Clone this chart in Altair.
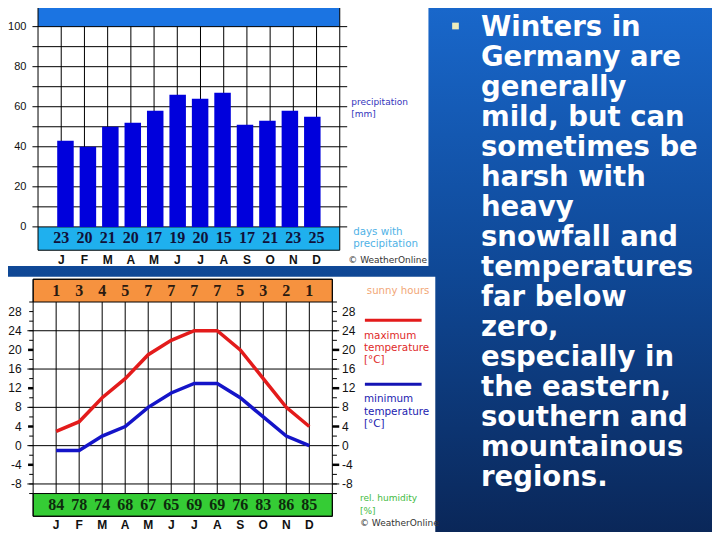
import altair as alt
import pandas as pd

# ---------------- data ----------------
months = ["J", "F", "M", "A", "M", "J", "J", "A", "S", "O", "N", "D"]
precip_mm = [43, 40, 50, 52, 58, 66, 64, 67, 51, 53, 58, 55]
rain_days = [23, 20, 21, 20, 17, 19, 20, 15, 17, 21, 23, 25]
sun_hours = [1, 3, 4, 5, 7, 7, 7, 7, 5, 3, 2, 1]
temp_max = [3, 5, 10, 14, 19, 22, 24, 24, 20, 14, 8, 4]
temp_min = [-1, -1, 2, 4, 8, 11, 13, 13, 10, 6, 2, 0]
humidity = [84, 78, 74, 68, 67, 65, 69, 69, 76, 83, 86, 85]
precip_ticks = [0, 20, 40, 60, 80, 100]
temp_ticks = [28, 24, 20, 16, 12, 8, 4, 0, -4, -8]
bullet_lines = [
    "Winters in", "Germany are", "generally", "mild, but can",
    "sometimes be", "harsh with", "heavy", "snowfall and",
    "temperatures", "far below", "zero,", "especially in",
    "the eastern,", "southern and", "mountainous", "regions.",
]
month_idx = list(range(1, 13))

# ---------------- canvas mapping ----------------
# negative padding removes the page margin offset: chart coords == page coords
PAD = {"left": -8, "top": -8, "right": -8, "bottom": -8}
W, H = 720, 540


def px(v):  # left panels squeezed into the visible area
    return 8 + v * 704 / 720


def py(v):
    return 2 + v * 0.985


one = pd.DataFrame({"k": [0]})
SANS = "Liberation Sans"
SERIF = "Liberation Serif"
VERD = "DejaVu Sans"


def sc(domain, rng):
    return alt.Scale(domain=domain, range=rng, nice=False, zero=False)


def vrect(x0, y0, x1, y1, **kw):
    return alt.Chart(one).mark_rect(**kw).encode(
        x=alt.value(x0), x2=alt.value(x1), y=alt.value(y0), y2=alt.value(y1))


def vtext(s, x, y, **kw):
    opts = dict(align="left", baseline="middle", font=VERD)
    opts.update(kw)
    return alt.Chart(one).mark_text(text=s, **opts).encode(
        x=alt.value(px(x)), y=alt.value(py(y)))


def vline(x0, x1, y, color, width):
    return alt.Chart(one).mark_rule(color=color, strokeWidth=width).encode(
        x=alt.value(px(x0)), x2=alt.value(px(x1)), y=alt.value(py(y)))


def band(scx, scy, x0, x1, y0, y1, **kw):
    d = pd.DataFrame({"x0": [x0], "x1": [x1], "y0": [y0], "y1": [y1]})
    return alt.Chart(d).mark_rect(**kw).encode(
        x=alt.X("x0:Q", scale=scx, axis=None), x2="x1:Q",
        y=alt.Y("y0:Q", scale=scy, axis=None), y2="y1:Q")


def hrules(scx, scy, ys, x0, x1, color="black", width=1):
    d = pd.DataFrame({"y": ys, "x0": [x0] * len(ys), "x1": [x1] * len(ys)})
    return alt.Chart(d).mark_rule(color=color, strokeWidth=width).encode(
        x=alt.X("x0:Q", scale=scx, axis=None), x2="x1:Q",
        y=alt.Y("y:Q", scale=scy, axis=None))


def vrules(scx, scy, xs, y0, y1, color="black", width=1):
    d = pd.DataFrame({"x": xs, "y0": [y0] * len(xs), "y1": [y1] * len(xs)})
    return alt.Chart(d).mark_rule(color=color, strokeWidth=width).encode(
        x=alt.X("x:Q", scale=scx, axis=None),
        y=alt.Y("y0:Q", scale=scy, axis=None), y2="y1:Q")


def labels(scx, scy, xs, ys, texts, **kw):
    d = pd.DataFrame({"x": xs, "y": ys, "t": [str(t) for t in texts]})
    opts = dict(align="center", baseline="middle", font=SANS)
    opts.update(kw)
    return alt.Chart(d).mark_text(**opts).encode(
        x=alt.X("x:Q", scale=scx, axis=None),
        y=alt.Y("y:Q", scale=scy, axis=None), text="t:N")


layers = []

# ---------------- backgrounds ----------------
grad = alt.Gradient(
    gradient="linear",
    stops=[alt.GradientStop(color="#1968cc", offset=0),
           alt.GradientStop(color="#0f4896", offset=0.5),
           alt.GradientStop(color="#0a2657", offset=1)],
    x1=0, x2=0, y1=0, y2=1)
layers.append(alt.Chart(one).mark_rect(color=grad).encode(
    x=alt.value(0), x2=alt.value(720), y=alt.value(0), y2=alt.value(540)))
layers.append(vrect(0, 0, px(430), py(268), color="white"))
layers.append(vrect(0, py(279), px(437), 540, color="white"))

# ---------------- panel A : precipitation ----------------
XA = sc([0, 13], [px(30.7), px(339.3)])
YA = sc([0, 100], [py(228.3), py(25.0)])

layers.append(band(XA, YA, 0, 13, 100, 113, color="#1b74e2"))
layers.append(band(XA, YA, 0, 13, -11.66, 0, color="#1fb0ee"))
layers.append(hrules(XA, YA, list(range(0, 101, 10)), -0.24, 13.32))
layers.append(vrules(XA, YA, month_idx, 0, 100))
dA = pd.DataFrame({"m": month_idx, "p": precip_mm, "z": [0] * 12})
layers.append(alt.Chart(dA).mark_bar(size=16.5, color="#0000dc").encode(
    x=alt.X("m:Q", scale=XA, axis=None),
    y=alt.Y("p:Q", scale=YA, axis=None), y2="z:Q"))
layers.append(band(XA, YA, 0, 13, -11.66, 113, fillOpacity=0,
                   stroke="black", strokeWidth=1))
layers.append(labels(XA, YA, month_idx, [-5.4] * 12, rain_days, font=SERIF,
                     fontWeight="bold", fontSize=16, color="#10103a"))
layers.append(labels(XA, YA, [-0.5] * len(precip_ticks), precip_ticks, precip_ticks,
                     align="right", fontSize=11, color="#111111"))
layers.append(labels(XA, YA, month_idx, [-16.6] * 12, months, fontWeight="bold",
                     fontSize=12, color="#111111"))

# legend A
layers.append(vtext("precipitation", 351, 102, fontSize=9, color="#3434bc"))
layers.append(vtext("[mm]", 351, 114, fontSize=9, color="#3434bc"))
layers.append(vtext("days with", 353, 233, fontSize=10.3, color="#4fb2e6"))
layers.append(vtext("precipitation", 353, 246, fontSize=10.3, color="#4fb2e6"))
layers.append(vtext("© WeatherOnline", 348, 262, fontSize=9, color="#333333"))

# ---------------- panel B : temperature ----------------
XB = sc([0, 13], [px(25.7), px(331.7)])
YB = sc([-8, 28], [py(489.3), py(314.3)])

layers.append(band(XB, YB, 0, 13, 30, 34.75, color="#f6923f", stroke="black",
                   strokeWidth=1))
layers.append(band(XB, YB, 0, 13, -14.75, -10, color="#35cc35", stroke="black",
                   strokeWidth=1))
layers.append(hrules(XB, YB, [-8, 0, 8, 16, 24], -0.25, 13.3))
layers.append(vrules(XB, YB, month_idx, -10, 30))
minor = list(range(-10, 31, 2))
layers.append(hrules(XB, YB, minor, -0.17, 0))
layers.append(hrules(XB, YB, minor, 13, 13.2))
major = [20, 12, 4, -4]
layers.append(hrules(XB, YB, major, -0.22, 0, width=2.5))
layers.append(hrules(XB, YB, major, 13, 13.3, width=2.5))
layers.append(band(XB, YB, 0, 13, -14.75, 34.75, fillOpacity=0,
                   stroke="black", strokeWidth=1))
dB = pd.DataFrame({"m": month_idx, "tmax": temp_max, "tmin": temp_min})
layers.append(alt.Chart(dB).mark_line(color="#e31b1b", strokeWidth=3.5).encode(
    x=alt.X("m:Q", scale=XB, axis=None), y=alt.Y("tmax:Q", scale=YB, axis=None)))
layers.append(alt.Chart(dB).mark_line(color="#1414c8", strokeWidth=3.5).encode(
    x=alt.X("m:Q", scale=XB, axis=None), y=alt.Y("tmin:Q", scale=YB, axis=None)))
layers.append(labels(XB, YB, month_idx, [32.3] * 12, sun_hours, font=SERIF,
                     fontWeight="bold", fontSize=16, color="#2a1a10"))
layers.append(labels(XB, YB, month_idx, [-12.4] * 12, humidity, font=SERIF,
                     fontWeight="bold", fontSize=16, color="#0d2a0d"))
layers.append(labels(XB, YB, [-0.5] * len(temp_ticks), temp_ticks, temp_ticks,
                     align="right", fontSize=12, color="#111111"))
layers.append(labels(XB, YB, [13.42] * len(temp_ticks), temp_ticks, temp_ticks,
                     align="left", fontSize=12, color="#111111"))
layers.append(labels(XB, YB, month_idx, [-16.6] * 12, months, fontWeight="bold",
                     fontSize=12, color="#111111"))

# legend B
layers.append(vtext("sunny hours", 367, 293, fontSize=10.2, color="#f2a777"))
layers.append(vline(365, 423, 323, "#e31b1b", 3))
layers.append(vtext("maximum", 364, 339, fontSize=10.4, color="#e02a2a"))
layers.append(vtext("temperature", 364, 351, fontSize=10.4, color="#e02a2a"))
layers.append(vtext("[°C]", 364, 363, fontSize=10.4, color="#e02a2a"))
layers.append(vline(365, 423, 388, "#1414b4", 3))
layers.append(vtext("minimum", 364, 403, fontSize=10.4, color="#2222b0"))
layers.append(vtext("temperature", 364, 416, fontSize=10.4, color="#2222b0"))
layers.append(vtext("[°C]", 364, 428, fontSize=10.4, color="#2222b0"))
layers.append(vtext("rel. humidity", 360, 504, fontSize=9, color="#44bb44"))
layers.append(vtext("[%]", 360, 517, fontSize=9, color="#44bb44"))
layers.append(vtext("© WeatherOnline", 360, 529, fontSize=9, color="#333333"))

# ---------------- right-hand text ----------------
layers.append(alt.Chart(one).mark_square(size=45, color="#ececbc", opacity=1).encode(
    x=alt.value(455.5), y=alt.value(26)))
dT = pd.DataFrame({"i": list(range(len(bullet_lines))), "t": bullet_lines})
layers.append(alt.Chart(dT).mark_text(
    align="left", baseline="middle", font=VERD, fontWeight="bold",
    fontSize=27.5, color="white").encode(
    x=alt.value(481),
    y=alt.Y("i:Q", scale=sc([0, len(bullet_lines) - 1], [28, 478]), axis=None),
    text="t:N"))

chart = alt.layer(*layers).resolve_scale(x="independent", y="independent").properties(
    width=W, height=H, padding=PAD,
    autosize=alt.AutoSizeParams(type="none"),
    background="white",
).configure_view(stroke=None)

chart.save("out.html", embed_options={"renderer": "svg", "actions": False})
